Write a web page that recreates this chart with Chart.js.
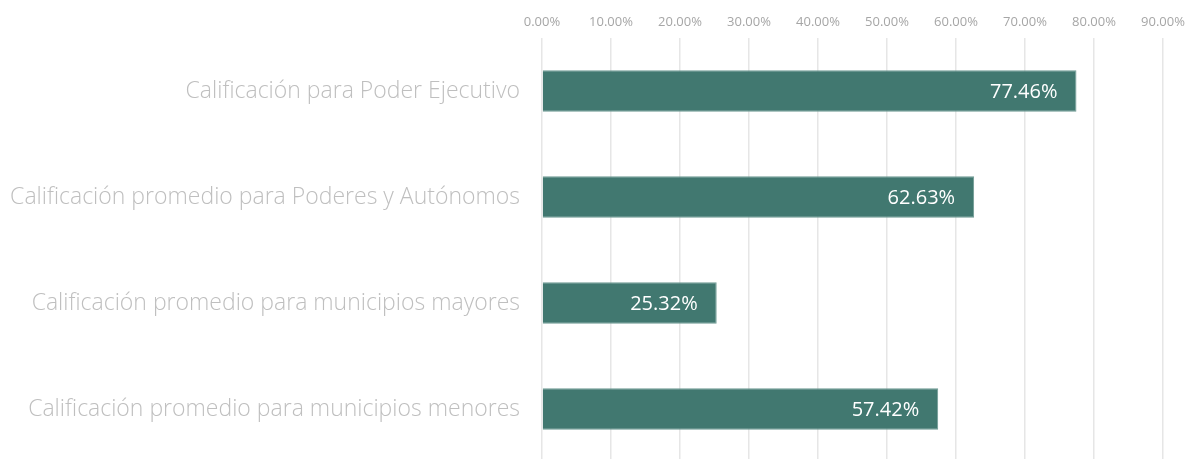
<!DOCTYPE html>
<html>
<head>
<meta charset="utf-8">
<script src="https://cdn.jsdelivr.net/npm/chart.js@4/dist/chart.umd.min.js"></script>
<style>
html,body{margin:0;padding:0;background:#fff;overflow:hidden;}
canvas{display:block;}
</style>
</head>
<body>
<canvas id="c" width="1193" height="462" style="width:1193px;height:462px;"></canvas>
<script>
const categories = [
  "Calificación para Poder Ejecutivo",
  "Calificación promedio para Poderes y Autónomos",
  "Calificación promedio para municipios mayores",
  "Calificación promedio para municipios menores"
];
const values = [0.7746, 0.6263, 0.2532, 0.5742];
const valueLabels = ["77.46%", "62.63%", "25.32%", "57.42%"];
const tickValues = [0, 0.1, 0.2, 0.3, 0.4, 0.5, 0.6, 0.7, 0.8, 0.9];
const tickLabels = ["0.00%","10.00%","20.00%","30.00%","40.00%","50.00%","60.00%","70.00%","80.00%","90.00%"];

const labelPlugin = {
  id: 'insideEnd',
  afterDatasetsDraw(chart) {
    const ctx = chart.ctx;
    const meta = chart.getDatasetMeta(0);
    ctx.save();
    ctx.fillStyle = '#ffffff';
    ctx.font = '20px "Open Sans", sans-serif';
    ctx.textAlign = 'right';
    ctx.textBaseline = 'middle';
    meta.data.forEach((bar, i) => {
      ctx.fillText(valueLabels[i], bar.x - 19, bar.y + 1);
    });
    ctx.restore();
  }
};

new Chart(document.getElementById('c'), {
  type: 'bar',
  data: {
    labels: categories,
    datasets: [{
      data: values,
      backgroundColor: '#417870',
      borderColor: '#6e9a93',
      borderWidth: 1,
      categoryPercentage: 0.39,
      barPercentage: 1.0
    }]
  },
  options: {
    indexAxis: 'y',
    responsive: false,
    maintainAspectRatio: false,
    devicePixelRatio: 1,
    animation: false,
    layout: { padding: { left: 0, right: 30, top: 0, bottom: 0 } },
    plugins: { legend: { display: false }, tooltip: { enabled: false } },
    scales: {
      x: {
        position: 'top',
        min: 0,
        max: 0.9,
        afterBuildTicks(scale) { scale.ticks = tickValues.map(v => ({ value: v })); },
        afterFit(scale) { scale.height = 38; scale.paddingTop = 0; scale.paddingBottom = 0; },
        ticks: {
          callback: (v, i) => tickLabels[i],
          color: '#a6a6a6',
          font: { family: '"Open Sans", sans-serif', size: 13 },
          padding: 8,
          maxRotation: 0
        },
        grid: { color: '#e6e6e6', lineWidth: 1.5, drawTicks: false },
        border: { display: false }
      },
      y: {
        afterFit(scale) { scale.width = 542; scale.paddingTop = 0; scale.paddingBottom = 0; },
        ticks: {
          color: '#bfbfbf',
          font: { family: '"Open Sans", sans-serif', size: 23, weight: 300 },
          padding: 22
        },
        grid: { display: false, drawTicks: false },
        border: { display: false }
      }
    }
  },
  plugins: [labelPlugin]
});
</script>
</body>
</html>
